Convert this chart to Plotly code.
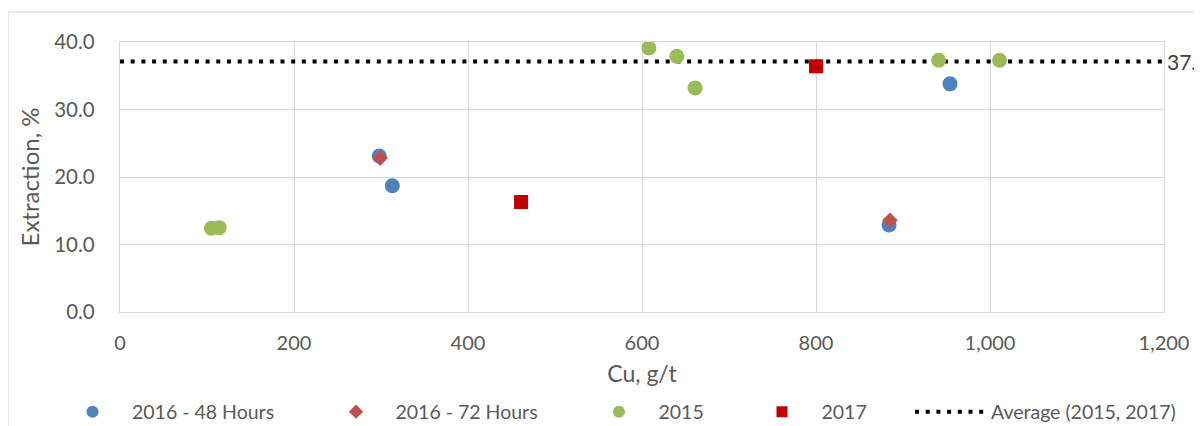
import plotly.graph_objects as go

# ---- data ----
h48_x = [298, 313, 884, 954]
h48_y = [23.1, 18.7, 12.9, 33.8]
h72_x = [299, 885]
h72_y = [22.8, 13.6]
y2015_x = [105, 114, 608, 640, 661, 941, 1011]
y2015_y = [12.4, 12.5, 39.1, 37.9, 33.2, 37.3, 37.3]
y2017_x = [461, 800]
y2017_y = [16.3, 36.4]
avg_x = [0, 1200]
avg_value = 37.1
x_ticks = [0, 200, 400, 600, 800, 1000, 1200]
y_ticks = [0, 10, 20, 30, 40]

FONT = "Lato, Roboto, sans-serif"
GRID = "#D9D9D9"
TXT = "#595959"

names = ["2016 - 48 Hours", "2016 - 72 Hours", "2015", "2017", "Average (2015, 2017)"]
colors = ["#4F81BD", "#C0504D", "#9BBB59", "#C00000", "black"]
symbols = ["circle", "diamond", "circle", "square"]
sizes = [15, 12, 15, 14]
leg_sizes = [12, 11, 12, 11]
xs = [h48_x, h72_x, y2015_x, y2017_x]
ys = [h48_y, h72_y, y2015_y, y2017_y]

# page body has an 8px margin; figure is sized to fit the window
OFF = 8
W, H = 1202 - OFF, 426 - OFF
L, T = 120 - OFF, 42 - OFF
R = W - (1164 - OFF)
B = H - (312 - OFF)
pw, ph = W - L - R, H - T - B


def paper_x(px):
    return (px - OFF - L) / pw


def paper_y(py):
    return (312 - py) / ph


fig = go.Figure()

# average line
fig.add_trace(go.Scatter(x=avg_x, y=[avg_value] * len(avg_x), mode="lines",
                         line=dict(color="black", width=4, dash="4px,6.7px"),
                         showlegend=False, hoverinfo="skip"))

for i in range(4):
    fig.add_trace(go.Scatter(x=xs[i], y=ys[i], mode="markers", name=names[i],
                             marker=dict(color=colors[i], symbol=symbols[i], size=sizes[i]),
                             showlegend=False))

# legend entries (one legend per item for precise placement)
leg_px = [53, 316.5, 579.5, 742.5]
legends = {}
for i in range(4):
    key = "legend" if i == 0 else f"legend{i+1}"
    fig.add_trace(go.Scatter(x=[None], y=[None], mode="markers", name=names[i],
                             marker=dict(color=colors[i], symbol=symbols[i], size=leg_sizes[i]),
                             legend=key, showlegend=True))
    legends[key] = (leg_px[i], 69)
fig.add_trace(go.Scatter(x=[None], y=[None], mode="lines", name=names[4],
                         line=dict(color="black", width=4, dash="4px,6.7px"),
                         legend="legend5", showlegend=True))
legends["legend5"] = (910, 71)

layout_legends = {}
for key, (px, iw) in legends.items():
    layout_legends[key] = dict(x=paper_x(px), xanchor="left", y=paper_y(412),
                               yanchor="middle", orientation="h", itemwidth=iw,
                               font=dict(family=FONT, size=19.5, color=TXT),
                               bgcolor="rgba(0,0,0,0)", borderwidth=0)

fig.update_layout(
    width=W, height=H,
    margin=dict(l=L, r=R, t=T, b=B, autoexpand=False),
    paper_bgcolor="white", plot_bgcolor="white",
    font=dict(family=FONT, size=19.5, color=TXT),
    **layout_legends,
)

fig.update_xaxes(range=[0, 1200], tickvals=x_ticks, tickformat=",", showgrid=True,
                 gridcolor=GRID, gridwidth=1.3, showline=True, linecolor=GRID, linewidth=1.3,
                 mirror=True, zeroline=False, ticks="", ticklabelstandoff=13,
                 tickfont=dict(family=FONT, size=20, color=TXT),
                 title=dict(text="Cu, g/t", font=dict(family=FONT, size=23, color=TXT), standoff=12),
                 automargin=False)
fig.update_yaxes(range=[0, 40], tickvals=y_ticks, tickformat=".1f", showgrid=True,
                 gridcolor=GRID, gridwidth=1.3, showline=True, linecolor=GRID, linewidth=1.3,
                 mirror=True, zeroline=False, ticks="", ticklabelstandoff=20,
                 tickfont=dict(family=FONT, size=20.5, color=TXT),
                 title=dict(text="Extraction, %", font=dict(family=FONT, size=24, color=TXT), standoff=7),
                 automargin=False)

# label for the average line
fig.add_annotation(x=1, xref="paper", y=avg_value, yref="y", text=f"{avg_value:.1f}",
                   showarrow=False, xanchor="left", yanchor="middle", xshift=1,
                   font=dict(family=FONT, size=21, color="#404040"))

# outer chart border (partially cropped)
bx = paper_x(8)
by = paper_y(12)
fig.add_shape(type="line", xref="paper", yref="paper", x0=bx, x1=1.2, y0=by, y1=by,
              line=dict(color=GRID, width=1))
fig.add_shape(type="line", xref="paper", yref="paper", x0=bx, x1=bx, y0=by, y1=-0.6,
              line=dict(color=GRID, width=1))

fig.write_html("out.html")
